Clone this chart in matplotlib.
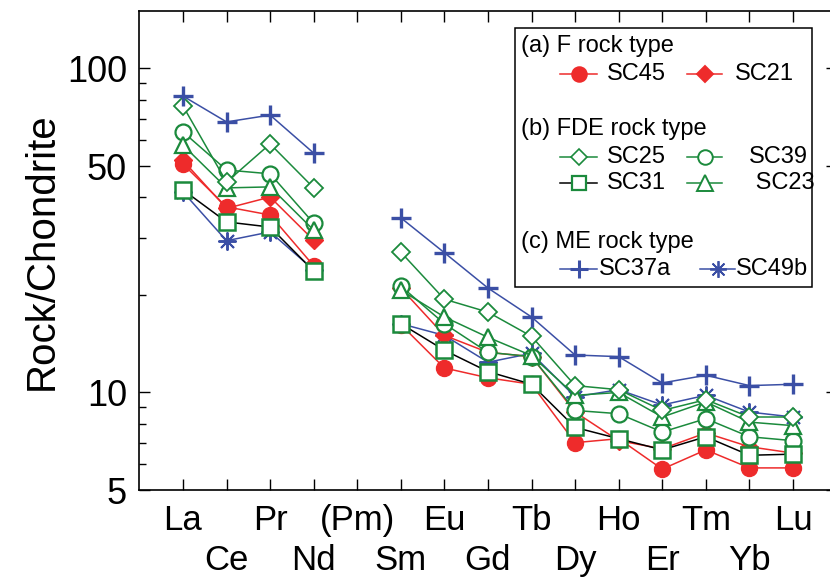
import numpy as np
import matplotlib
matplotlib.use("Agg")
import matplotlib.pyplot as plt
from matplotlib.lines import Line2D
from matplotlib.patches import Rectangle
from matplotlib.ticker import FixedLocator, NullFormatter, FixedFormatter

plt.rcParams['font.family'] = ['Liberation Sans', 'DejaVu Sans']

nan = np.nan
elements = ['La', 'Ce', 'Pr', 'Nd', '(Pm)', 'Sm', 'Eu', 'Gd', 'Tb', 'Dy',
            'Ho', 'Er', 'Tm', 'Yb', 'Lu']

SC45 = [50.7, 37.4, 35.3, 24.6, nan, 16.2, 11.9, 11.1, 10.6, 7.0, 7.2, 5.8, 6.65, 5.85, 5.85]
SC21 = [52.0, 37.0, 40.1, 29.5, nan, 21.0, 15.0, 13.3, 12.9, 8.7, 7.1, 6.7, 7.5, 6.8, 6.5]
SC25 = [76.6, 44.6, 58.5, 42.8, nan, 27.1, 19.4, 17.7, 14.9, 10.5, 10.2, 8.8, 9.5, 8.4, 8.4]
SC39 = [63.7, 48.6, 47.3, 33.3, nan, 21.3, 16.3, 13.3, 12.9, 8.8, 8.6, 7.55, 8.3, 7.3, 7.1]
SC31 = [42.2, 33.6, 32.4, 23.7, nan, 16.3, 13.5, 11.6, 10.6, 7.8, 7.2, 6.65, 7.3, 6.4, 6.45]
SC23 = [58.0, 42.8, 43.1, 31.7, nan, 20.7, 17.1, 14.8, 13.0, 9.8, 10.0, 8.4, 9.35, 8.1, 7.9]
SC37a = [82.2, 68.4, 71.8, 54.8, nan, 34.6, 27.0, 21.0, 17.1, 13.05, 12.9, 10.7, 11.3, 10.5, 10.6]
SC49b = [41.6, 29.4, 31.3, 23.9, nan, 16.3, 15.0, 12.4, 13.2, 9.7, 10.2, 9.15, 9.8, 8.7, 8.4]

RED = '#ee2b2b'
GREEN = '#1b8a3c'
BLUE = '#3b4fa5'

W, H = 830, 583
fig = plt.figure(figsize=(W / 100, H / 100), dpi=100)

# axes geometry in pixels
x0_px = 139.4
step_px = 43.57
bottom_px = 490
ymin, ymax = 5, 150
dec_px = 324
height_px = dec_px * np.log10(ymax / ymin)
ax = fig.add_axes([x0_px / W, (H - bottom_px) / H, 16 * step_px / W, height_px / H])

x = np.arange(len(elements))

style = dict(lw=1.1)
ax.plot(x, SC49b, color=BLUE, marker=(8, 2, 0), ms=13, mew=1.4, **style, zorder=3)
ax.plot(x, SC45, color=RED, marker='o', ms=11.5, mfc=RED, mec=RED, **style, zorder=3)
ax.plot(x, SC21, color=RED, marker='D', ms=9, mfc=RED, mec=RED, **style, zorder=3)
ax.plot(x, SC39, color=GREEN, marker='o', ms=11.5, mfc='white', mec=GREEN, mew=1.6, **style, zorder=4)
ax.plot(x, SC23, color=GREEN, marker='^', ms=12, mfc='white', mec=GREEN, mew=1.6, **style, zorder=4)
ax.plot(x, SC25, color=GREEN, marker='D', ms=9, mfc='white', mec=GREEN, mew=1.3, **style, zorder=4)
ax.plot(x, SC31, color='black', marker='s', ms=11, mfc='white', mec=GREEN, mew=1.8, **style, zorder=4)
ax.plot(x, SC37a, color=BLUE, marker='+', ms=15, mew=2.4, **style, zorder=5)

ax.set_yscale('log')
ax.set_ylim(ymin, ymax)
ax.set_xlim(-1, 15)

ax.yaxis.set_major_locator(FixedLocator([5, 10, 50, 100]))
ax.yaxis.set_major_formatter(FixedFormatter(['5', '10', '50', '100']))
ax.yaxis.set_minor_locator(FixedLocator([6, 7, 8, 9, 20, 30, 40, 60, 70, 80, 90]))
ax.yaxis.set_minor_formatter(NullFormatter())

# x ticks: even elements on the first row (major), odd elements on the second row (minor)
even = x[::2]
odd = x[1::2]
ax.xaxis.set_major_locator(FixedLocator(even))
ax.xaxis.set_major_formatter(FixedFormatter([elements[i] for i in even]))
ax.xaxis.set_minor_locator(FixedLocator(odd))
ax.xaxis.set_minor_formatter(FixedFormatter([elements[i] for i in odd]))

ax.tick_params(axis='y', which='major', direction='in', length=8, width=1,
               labelsize=26, right=True, pad=9)
ax.tick_params(axis='y', which='minor', direction='in', length=5, width=1, right=True)
ax.tick_params(axis='x', which='major', direction='in', length=8, width=1,
               labelsize=25, top=True, pad=10)
ax.tick_params(axis='x', which='minor', direction='in', length=8, width=1,
               labelsize=25, top=True, pad=39)
for s in ax.spines.values():
    s.set_linewidth(1.2)

ax.set_ylabel('Rock/Chondrite', fontsize=29, labelpad=4)

# ---- custom legend (figure pixel coordinates) ----
def fx(px):
    return px / W


def fy(py):
    return 1 - py / H


box = Rectangle((fx(515), fy(287)), fx(812) - fx(515), fy(28) - fy(287),
                transform=fig.transFigure, fill=True, fc='white', ec='black', lw=1.1, zorder=10)
fig.patches.append(box)

fs = 17
def header(text, py):
    fig.text(fx(521), fy(py), text, fontsize=fs, va='center', ha='left', zorder=11)


def entry(px1, px2, py, label, tx, color, mk, mfc, mec, ms, mew=1.4):
    ln = Line2D([fx(px1), fx((px1 + px2) / 2), fx(px2)], [fy(py)] * 3,
                transform=fig.transFigure, color=color, lw=1.1, marker=mk, markevery=[1],
                mfc=mfc, mec=mec, ms=ms, mew=mew, zorder=11)
    fig.lines.append(ln)
    fig.text(fx(tx), fy(py), label, fontsize=fs, va='center', ha='left', zorder=11)


header('(a) F rock type', 46)
entry(560, 597, 74, 'SC45', 607, RED, 'o', RED, RED, 10.5)
entry(687, 722, 74, 'SC21', 735, RED, 'D', RED, RED, 8.5)
header('(b) FDE rock type', 129)
entry(560, 597, 157, 'SC25', 607, GREEN, 'D', 'white', GREEN, 8.5, 1.2)
entry(687, 722, 157, 'SC39', 749, GREEN, 'o', 'white', GREEN, 10.5, 1.4)
entry(560, 597, 183, 'SC31', 607, 'black', 's', 'white', GREEN, 10, 1.6)
entry(687, 722, 183, ' SC23', 749, GREEN, '^', 'white', GREEN, 11, 1.4)
header('(c) ME rock type', 242)
entry(560, 597, 269, 'SC37a', 599, BLUE, '+', BLUE, BLUE, 13, 2.2)
entry(700, 735, 269, 'SC49b', 736, BLUE, (8, 2, 0), BLUE, BLUE, 12, 1.3)

fig.savefig('out.png', dpi=100)
